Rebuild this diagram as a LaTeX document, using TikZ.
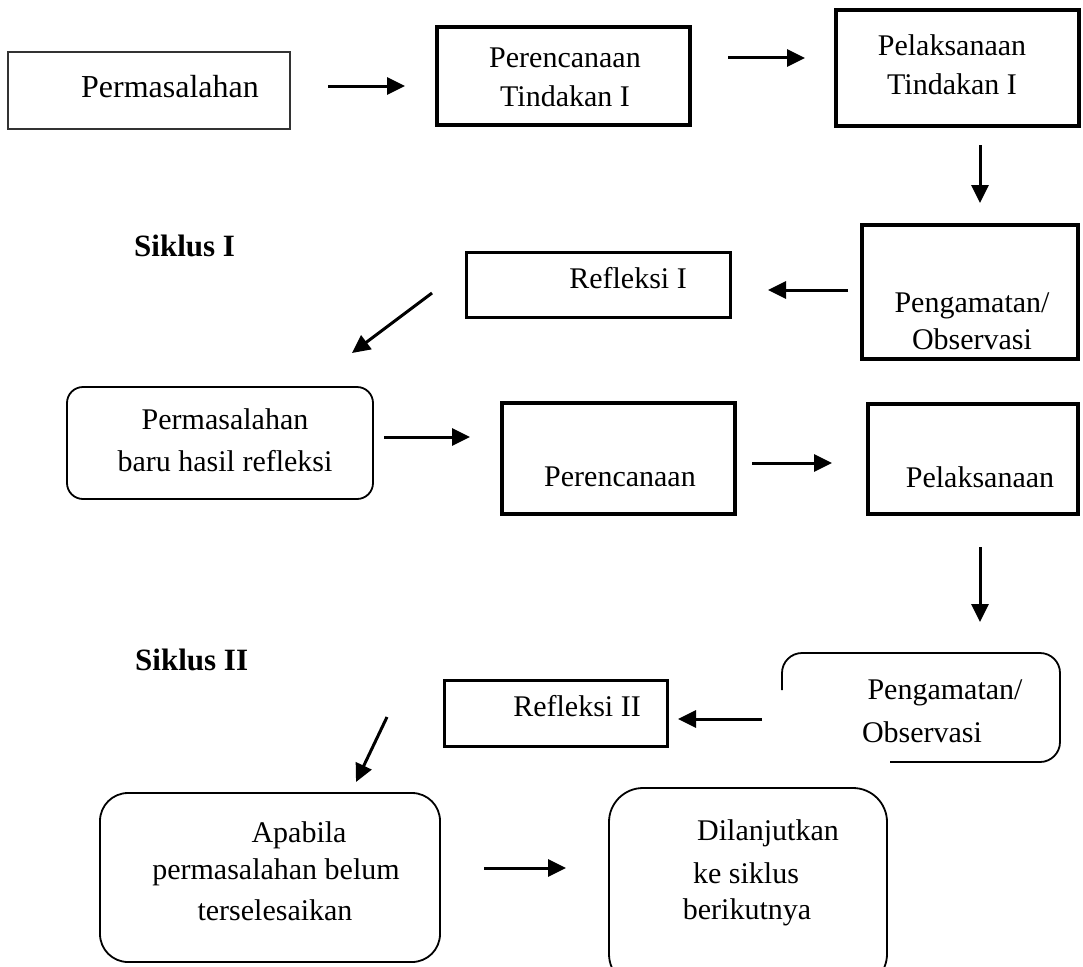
\documentclass[tikz,border=0pt]{standalone}
\usepackage{fontspec}
\setmainfont{Liberation Serif}
\usetikzlibrary{arrows.meta}
\tikzset{
  box/.style={draw=black, line width=#1, inner sep=0pt, outer sep=0pt, anchor=north west},
  box/.default=2.6pt,
  txt/.style={inner sep=0pt, align=center, font=\fontsize{30}{39}\selectfont},
  lbl/.style={inner sep=0pt, anchor=west, font=\fontsize{31}{38}\selectfont\bfseries},
  arr/.style={line width=3pt, -{Triangle[length=18pt,width=17pt]}},
}
\begin{document}
\begin{tikzpicture}[x=1pt,y=-1pt]
\useasboundingbox (0,0) rectangle (1083,966);
% boxes
\node[box=1.8pt, draw=black!80, minimum width=282pt, minimum height=77pt] (b1) at (8,52) {};
\node[box=3.6pt, minimum width=253pt, minimum height=98pt] (b2) at (437,27) {};
\node[box=3.6pt, minimum width=243pt, minimum height=116pt] (b3) at (836,10) {};
\node[box=3.2pt, minimum width=216pt, minimum height=134pt] (b4) at (862,225) {};
\node[box=3pt, minimum width=264pt, minimum height=65pt] (b5) at (466,252) {};
\node[box=1.8pt, rounded corners=16pt, minimum width=306pt, minimum height=112pt] (b6) at (67,387) {};
\node[box=3.2pt, minimum width=233pt, minimum height=111pt] (b7) at (502,403) {};
\node[box=3.2pt, minimum width=210pt, minimum height=110pt] (b8) at (868,404) {};
\node[box=3pt, minimum width=223pt, minimum height=66pt] (b9) at (444,680) {};
\draw[line width=1.8pt, rounded corners=20pt] (782,690) -- (782,653) -- (1060,653) -- (1060,762) -- (890,762);
\node[box=1.8pt, rounded corners=28pt, minimum width=340pt, minimum height=169pt] (b11) at (100,793) {};
\node[box=1.8pt, rounded corners=34pt, minimum width=278pt, minimum height=200pt] (b12) at (609,788) {};
% texts
\node[txt, font=\fontsize{32}{39}\selectfont] (t1) at (170,87) {Permasalahan};
\node[txt] (t2) at (565,77) {Perencanaan\\Tindakan I};
\node[txt] (t3) at (952,65) {Pelaksanaan\\Tindakan I};
\node[txt, font=\fontsize{30}{37}\selectfont] (t4) at (972,321) {Pengamatan/\\Observasi};
\node[txt] (t5) at (628,278) {Refleksi I};
\node[txt, font=\fontsize{30}{42}\selectfont] (t6) at (225,440) {Permasalahan\\baru hasil refleksi};
\node[txt] (t7) at (620,477) {Perencanaan};
\node[txt] (t8) at (980,477) {Pelaksanaan};
\node[txt] (t9) at (577,706) {Refleksi II};
\node[txt] (t10a) at (945,693) {Pengamatan/};
\node[txt] (t10b) at (922,732) {Observasi};
\node[txt] (t11a) at (299,835) {Apabila};
\node[txt] (t11b) at (276,872) {permasalahan belum};
\node[txt] (t11c) at (275,910) {terselesaikan};
\node[txt] (t12a) at (768,833) {Dilanjutkan};
\node[txt] (t12b) at (746,873) {ke siklus};
\node[txt] (t12c) at (747,912) {berikutnya};
\node[lbl] (s1) at (134,246) {Siklus I};
\node[lbl] (s2) at (135,660) {Siklus II};
% arrow end points
\coordinate (a1s) at (328,86);  \coordinate (a1e) at (405,86);
\coordinate (a2s) at (728,58);  \coordinate (a2e) at (805,58);
\coordinate (a3s) at (980,145); \coordinate (a3e) at (980,203);
\coordinate (a4s) at (848,290); \coordinate (a4e) at (768,290);
\coordinate (a5s) at (432,293); \coordinate (a5e) at (352,353);
\coordinate (a6s) at (384,437); \coordinate (a6e) at (470,437);
\coordinate (a7s) at (752,463); \coordinate (a7e) at (832,463);
\coordinate (a8s) at (980,547); \coordinate (a8e) at (980,622);
\coordinate (a9s) at (762,719); \coordinate (a9e) at (678,719);
\coordinate (a10s) at (387,717); \coordinate (a10e) at (356,782);
\coordinate (a11s) at (484,868); \coordinate (a11e) at (566,868);
\foreach \i in {1,...,11} { \draw[arr] (a\i s) -- (a\i e); }
\end{tikzpicture}
\end{document}
